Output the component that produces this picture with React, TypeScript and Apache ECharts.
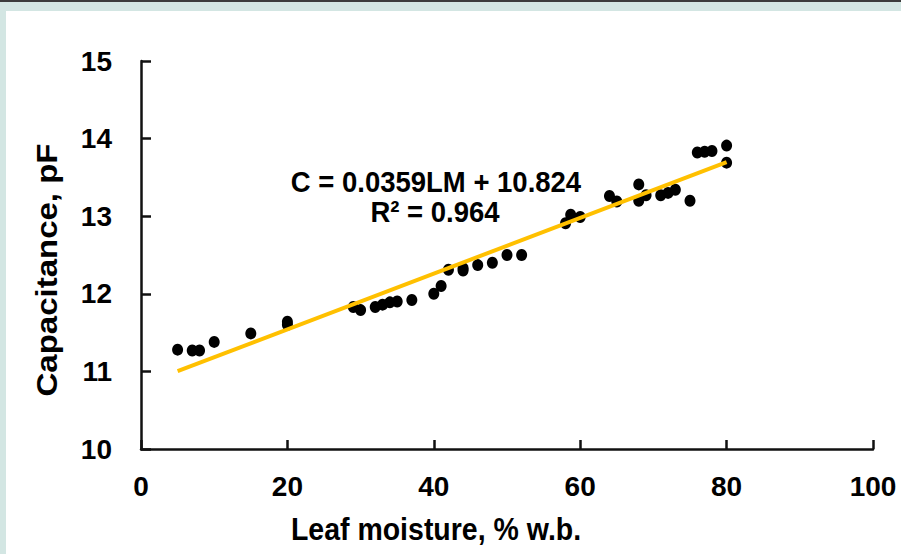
import React, { useEffect, useRef } from "react";
import * as echarts from "echarts";

const moisture = [5, 7, 8, 10, 15, 20, 20, 29, 30, 32, 33, 34, 35, 37, 40, 41, 42, 44, 44, 46, 48, 50, 52, 58, 58.7, 60, 64, 65, 68, 68, 69, 71, 72, 73, 75, 76, 77, 78, 80, 80];
const capacitance = [11.28, 11.27, 11.27, 11.38, 11.49, 11.6, 11.64, 11.83, 11.79, 11.83, 11.86, 11.89, 11.9, 11.92, 12.0, 12.1, 12.31, 12.3, 12.33, 12.37, 12.4, 12.5, 12.5, 12.91, 13.02, 12.99, 13.26, 13.19, 13.41, 13.2, 13.27, 13.27, 13.3, 13.34, 13.2, 13.82, 13.83, 13.84, 13.91, 13.69];
const slope = 0.0359;
const intercept = 10.824;
const trendRange = [5, 80];
const xTicks = [0, 100, 20];
const yTicks = [10, 15, 1];
const equationLines = ["C = 0.0359LM + 10.824", "R² = 0.964"];
const xTitle = "Leaf moisture, % w.b.";
const yTitle = "Capacitance, pF";

export default function App() {
  const ref = useRef<HTMLDivElement>(null);
  useEffect(() => {
    if (!ref.current) return;
    const chart = echarts.init(ref.current, null, { renderer: "svg" });
    const font = "'Liberation Sans', Arial, sans-serif";
    const axisColor = "#111";
    const points = moisture.map((x, i) => [x, capacitance[i]]);
    const trend = trendRange.map((x) => [x, slope * x + intercept]);
    const txt = { fontFamily: font, fontWeight: "bold", fill: "#000" };
    chart.setOption({
      animation: false,
      backgroundColor: "#ffffff",
      grid: { left: 141, right: 28, top: 61, bottom: 105 },
      xAxis: {
        type: "value",
        min: xTicks[0],
        max: xTicks[1],
        interval: xTicks[2],
        axisLine: { lineStyle: { color: axisColor, width: 2.5 } },
        axisTick: { inside: true, length: 9, lineStyle: { color: axisColor, width: 2.5 } },
        axisLabel: { fontFamily: font, fontSize: 28, fontWeight: "bold", color: "#000", margin: 23 },
        splitLine: { show: false },
      },
      yAxis: {
        type: "value",
        min: yTicks[0],
        max: yTicks[1],
        interval: yTicks[2],
        axisLine: { show: true, lineStyle: { color: axisColor, width: 2.5 } },
        axisTick: { show: true, inside: true, length: 10, lineStyle: { color: axisColor, width: 2.5 } },
        axisLabel: { fontFamily: font, fontSize: 28, fontWeight: "bold", color: "#000", margin: 29 },
        splitLine: { show: false },
      },
      graphic: [
        { type: "rect", z: -10, silent: true, shape: { x: 0, y: 0, width: 901, height: 2 }, style: { fill: "#3c3c3c" } },
        { type: "rect", z: -10, silent: true, shape: { x: 0, y: 2, width: 901, height: 9 }, style: { fill: "#d3e6e3" } },
        { type: "rect", z: -10, silent: true, shape: { x: 0, y: 11, width: 6, height: 543 }, style: { fill: "#d3e6e3" } },
        {
          type: "text",
          x: 436,
          y: 182,
          scaleY: 1.1,
          style: { ...txt, text: equationLines[0], fontSize: 27.5, align: "center", verticalAlign: "middle" },
        },
        {
          type: "text",
          x: 435,
          y: 212,
          scaleY: 1.1,
          style: { ...txt, text: equationLines[1], fontSize: 27.5, align: "center", verticalAlign: "middle" },
        },
        {
          type: "text",
          x: 436,
          y: 529,
          scaleY: 1.12,
          style: { ...txt, text: xTitle, fontSize: 28.5, align: "center", verticalAlign: "middle" },
        },
        {
          type: "text",
          x: 47,
          y: 270,
          rotation: Math.PI / 2,
          scaleX: 1.1,
          style: { ...txt, text: yTitle, fontSize: 30, align: "center", verticalAlign: "middle" },
        },
      ],
      series: [
        {
          type: "scatter",
          data: points,
          symbol: "circle",
          symbolSize: [11, 12],
          itemStyle: { color: "#000", opacity: 1 },
          z: 2,
        },
        {
          type: "line",
          data: trend,
          symbol: "none",
          lineStyle: { color: "#FFC000", width: 4 },
          z: 3,
        },
      ],
    });
    return () => chart.dispose();
  }, []);
  return (
    <div style={{ position: "absolute", left: 0, top: 0, width: 901, height: 554 }}>
      <div ref={ref} style={{ width: 901, height: 554 }} />
    </div>
  );
}
